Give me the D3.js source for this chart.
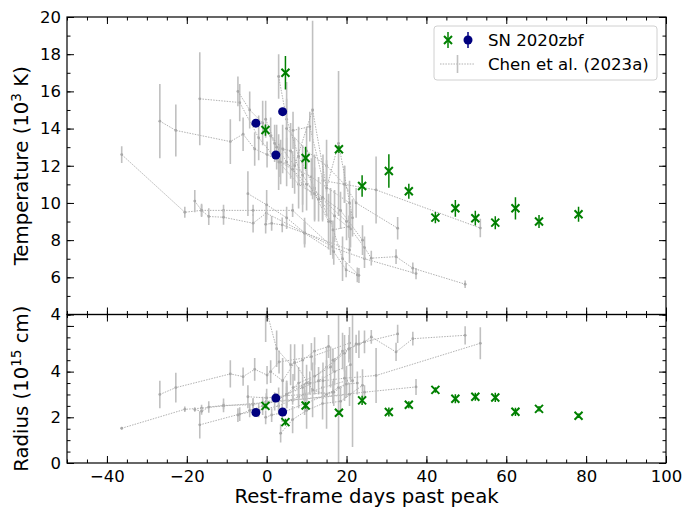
<!DOCTYPE html>
<html>
<head>
<meta charset="utf-8">
<script src="https://d3js.org/d3.v7.min.js"></script>
<style>
  body { margin: 0; background: #fff; }
  svg text { font-family: "DejaVu Sans", sans-serif; fill: #000; }
</style>
</head>
<body>
<svg id="chart" width="682" height="510"></svg>
<script>
// SN 2020zbf, photometric fits
const zbfPhase   = [-0.3, 4.7, 9.75, 18.1, 23.9, 30.6, 35.6, 42.25, 47.25, 52.25, 57.25, 62.3, 68.2, 78.1];
const zbfTemp    = [13.92, 17.0, 12.42, 12.89, 10.91, 11.72, 10.63, 9.21, 9.71, 9.18, 8.94, 9.71, 9.0, 9.39];
const zbfTempErr = [0.3, 0.9, 0.6, 0.2, 0.58, 0.9, 0.4, 0.3, 0.45, 0.4, 0.35, 0.6, 0.35, 0.4];
const zbfRad     = [2.5, 1.79, 2.52, 2.2, 2.74, 2.23, 2.55, 3.2, 2.81, 2.9, 2.87, 2.24, 2.37, 2.07];
const zbfRadErr  = [0.1, 0.15, 0.15, 0.1, 0.2, 0.2, 0.15, 0.12, 0.2, 0.18, 0.2, 0.18, 0.12, 0.1];

// SN 2020zbf, spectral fits
const specPhase   = [-2.7, 2.3, 4.0];
const specTemp    = [14.29, 12.58, 14.91];
const specTempErr = [0.15, 0.15, 0.15];
const specRad     = [2.21, 2.84, 2.23];
const specRadErr  = [0.1, 0.1, 0.1];

// Chen et al. (2023a) comparison sample, one row per object
const chenPhase = [
  [-36.3, -20.5, -16.3, -10.8, -3.4, 6.5, 16.6, 24.5, 37.4],
  [-26.75, -22.75, -9.1, -5.9, -3, 0.1, 3.1, 11.2, 20.75],
  [-18, -16.3, -14.5, -10.8, -3.4, -0.1, 9.5, 20.75],
  [-16.75, -6.75, -2, 3, 8, 14, 20],
  [-7.2, -4.25, -1, 2, 5, 9, 13, 17, 21],
  [-4.7, 0, 5, 9.5, 16.6],
  [-0.25, 1.25, 3.9, 9.5, 16.8, 19.9, 22.7],
  [6.6, 10.8, 14.1, 19.5, 27.4, 53.5],
  [3, 5, 8, 12, 16, 19, 23.1],
  [16.6, 20.6, 24.5, 26.2, 32.4, 36.6, 49.7],
  [5, 10, 15, 19.5, 22.4, 32.8],
  [1, 4, 7, 11.5, 15, 18, 21.5],
  [-0.25, 2.5, 6, 9, 12, 15.5],
  [3.5, 6.5, 10, 14, 18.5, 24]
];
const chenTemp = [
  [12.6, 9.5, 9.6, 9.6, 9.6, 9.6, 7.6, 7.0, 6.2],
  [14.4, 13.9, 13.3, 13.7, 12.9, 12.6, 12.3, 11.4, 10.0],
  [10.1, 9.6, 9.27, 9.23, 8.91, 9.45, 8.4, 7.47],
  [15.6, 15.4, 13.5, 12.2, 11.0, 10.2, 9.0],
  [16.0, 15.0, 14.3, 13.2, 12.2, 11.0, 10.2, 9.3, 8.6],
  [10.5, 9.9, 9.2, 8.4, 7.65],
  [8.85, 8.9, 8.82, 8.37, 7.38, 6.4, 6.13],
  [13.9, 14.1, 11.2, 11.0, 10.7, 8.65],
  [16.8, 14.5, 12.5, 10.8, 9.0, 7.0, 6.1],
  [8.55, 8.73, 7.6, 7.03, 7.11, 6.49, 5.63],
  [14.0, 12.8, 12.0, 11.0, 10.0, 8.64],
  [13.6, 12.9, 12.0, 15.0, 10.8, 13.2, 9.2],
  [14.5, 13.0, 12.8, 11.5, 10.5, 9.0],
  [12.2, 11.8, 11.0, 10.3, 9.6, 8.0]
];
const chenTempErr = [
  [0.45, 0.3, 0.35, 0.3, 0.3, 0.35, 0.6, 0.5, 0.3],
  [2.0, 1.4, 1.2, 0.9, 0.9, 0.7, 0.9, 1.0, 1.2],
  [0.6, 0.3, 0.45, 0.4, 0.5, 0.5, 0.6, 0.7],
  [2.5, 1.0, 1.2, 1.5, 1.3, 1.2, 1.0],
  [0.8, 1.0, 1.2, 1.0, 1.3, 1.5, 1.2, 1.4, 1.0],
  [1.2, 0.8, 0.6, 0.8, 0.5],
  [0.5, 0.4, 0.4, 0.6, 0.7, 0.4, 0.4],
  [1.0, 0.8, 1.4, 1.0, 1.8, 0.5],
  [1.2, 2.0, 1.6, 1.8, 1.8, 1.2, 0.4],
  [0.5, 0.6, 0.6, 0.4, 0.4, 0.3, 0.2],
  [1.6, 1.3, 1.4, 1.0, 0.8, 0.6],
  [1.0, 1.3, 1.5, 4.8, 1.5, 3.9, 1.0],
  [1.0, 1.2, 1.5, 1.6, 1.4, 1.5],
  [1.2, 1.0, 1.4, 1.2, 1.0, 0.8]
];
const chenRad = [
  [1.52, 2.35, 2.4, 2.5, 2.6, 2.75, 2.95, 3.1, 3.33],
  [3.0, 3.3, 3.9, 3.78, 4.1, 3.85, 4.42, 4.65, 5.25],
  [2.34, 2.26, 2.45, 2.52, 2.55, 2.7, 2.8, 3.0],
  [1.67, 2.14, 2.3, 2.5, 2.9, 3.3, 3.6],
  [2.1, 2.3, 2.5, 2.7, 3.0, 3.3, 3.6, 4.0, 4.3],
  [2.9, 2.85, 2.95, 3.0, 3.1],
  [2.0, 2.1, 2.2, 2.6, 3.1, 3.45, 3.5],
  [3.3, 3.5, 3.6, 3.71, 3.83, 5.24],
  [2.8, 3.0, 3.5, 3.8, 4.2, 4.9, 5.2],
  [4.5, 5.0, 5.3, 5.52, 4.86, 5.44, 5.59],
  [3.0, 3.5, 4.2, 4.8, 5.21, 5.65],
  [4.0, 3.6, 4.4, 3.2, 3.0, 3.3, 3.6],
  [6.8, 5.0, 4.3, 4.5, 4.9, 5.1],
  [1.3, 1.9, 2.3, 2.6, 2.7, 3.4]
];
const chenRadErr = [
  [0.05, 0.12, 0.15, 0.15, 0.2, 0.2, 0.3, 0.3, 0.35],
  [0.6, 0.65, 0.6, 0.4, 0.5, 0.4, 0.5, 0.6, 0.7],
  [0.1, 0.15, 0.25, 0.3, 0.3, 0.35, 0.4, 0.5],
  [0.6, 0.3, 0.3, 0.4, 0.5, 0.5, 0.6],
  [0.3, 0.3, 0.4, 0.4, 0.5, 0.5, 0.6, 0.6, 0.7],
  [0.5, 0.4, 0.4, 0.5, 0.5],
  [0.3, 0.3, 0.4, 0.5, 0.6, 0.6, 0.5],
  [0.6, 0.5, 0.8, 1.0, 1.2, 0.7],
  [0.5, 0.6, 0.7, 0.8, 0.9, 0.8, 0.6],
  [0.5, 0.6, 0.5, 0.3, 0.4, 0.3, 0.4],
  [0.6, 0.8, 0.9, 0.8, 0.4, 0.4],
  [0.5, 1.0, 0.8, 1.2, 1.5, 3.3, 2.9],
  [1.5, 0.8, 0.9, 0.7, 0.6, 0.5],
  [0.4, 0.6, 0.8, 0.7, 0.6, 0.7]
];

const xTicks = [-40, -20, 0, 20, 40, 60, 80, 100];
const tempTicks = [4, 6, 8, 10, 12, 14, 16, 18, 20];
const radTicks = [0, 2, 4];

const svg = d3.select('#chart');
svg.append('rect').attr('width', 682).attr('height', 510).attr('fill', '#fff');

const pLeft = 67, pRight = 666, pTop = 17, pMid = 314.5, pBottom = 463;
const x = d3.scaleLinear().domain([-50, 100]).range([pLeft, pRight]);
const yT = d3.scaleLinear().domain([4, 20]).range([pMid, pTop]);
const yR = d3.scaleLinear().domain([0, 6.5]).range([pBottom, pMid]);

const green = '#008000', navy = '#00007f';

function drawPanel(name, y, yMajor, yLabels, yMinorStep, chenY, chenE, zbfY, zbfE, specY, specE) {
  const g = svg.append('g');
  const [y0, y1] = y.range();
  g.append('clipPath').attr('id', 'clip-' + name)
    .append('rect').attr('x', pLeft).attr('y', y1).attr('width', pRight - pLeft).attr('height', y0 - y1);
  const plot = g.append('g').attr('clip-path', `url(#clip-${name})`);

  // comparison sample
  chenPhase.forEach((ph, k) => {
    const pts = ph.map((p, i) => [p, chenY[k][i], chenE[k][i]]);
    plot.append('g').selectAll('line').data(pts).enter().append('line')
      .attr('x1', d => x(d[0])).attr('x2', d => x(d[0]))
      .attr('y1', d => y(d[1] - d[2])).attr('y2', d => y(d[1] + d[2]))
      .attr('stroke', '#c0c0c0').attr('stroke-width', 1.6);
    plot.append('path').datum(pts)
      .attr('d', d3.line().x(d => x(d[0])).y(d => y(d[1])))
      .attr('fill', 'none').attr('stroke', '#a8a8a8').attr('stroke-width', 0.9)
      .attr('stroke-dasharray', '1.5,1.2');
    plot.append('g').selectAll('circle').data(pts).enter().append('circle')
      .attr('cx', d => x(d[0])).attr('cy', d => y(d[1])).attr('r', 1.4)
      .attr('fill', '#a8a8a8');
  });

  // SN 2020zbf photometry
  const zp = zbfPhase.map((p, i) => [p, zbfY[i], zbfE[i]]);
  plot.append('g').selectAll('line').data(zp).enter().append('line')
    .attr('x1', d => x(d[0])).attr('x2', d => x(d[0]))
    .attr('y1', d => y(d[1] - d[2])).attr('y2', d => y(d[1] + d[2]))
    .attr('stroke', green).attr('stroke-width', 1.5);
  plot.append('g').selectAll('path').data(zp).enter().append('path')
    .attr('transform', d => `translate(${x(d[0])},${y(d[1])})`)
    .attr('d', 'M-4,-4L4,4M-4,4L4,-4')
    .attr('stroke', green).attr('stroke-width', 2).attr('fill', 'none');

  // SN 2020zbf spectra
  const sp = specPhase.map((p, i) => [p, specY[i], specE[i]]);
  plot.append('g').selectAll('line').data(sp).enter().append('line')
    .attr('x1', d => x(d[0])).attr('x2', d => x(d[0]))
    .attr('y1', d => y(d[1] - d[2])).attr('y2', d => y(d[1] + d[2]))
    .attr('stroke', navy).attr('stroke-width', 1.5);
  plot.append('g').selectAll('circle').data(sp).enter().append('circle')
    .attr('cx', d => x(d[0])).attr('cy', d => y(d[1])).attr('r', 4.5)
    .attr('fill', navy);

  // axes, ticks pointing inward on all sides
  const yMinor = d3.range(y.domain()[0], y.domain()[1] + 1e-6, yMinorStep);
  const xMinor = d3.range(-50, 100.01, 5);
  const fmt = d => yLabels.includes(d) ? d3.format('d')(d) : '';
  g.append('g').attr('transform', `translate(${pLeft},0)`)
    .call(d3.axisLeft(y).tickValues(yMajor).tickSize(-7).tickPadding(6).tickFormat(fmt));
  g.append('g').attr('transform', `translate(${pLeft},0)`)
    .call(d3.axisLeft(y).tickValues(yMinor).tickSize(-3.5).tickFormat(''));
  g.append('g').attr('transform', `translate(${pRight},0)`)
    .call(d3.axisRight(y).tickValues(yMajor).tickSize(-7).tickFormat(''));
  g.append('g').attr('transform', `translate(${pRight},0)`)
    .call(d3.axisRight(y).tickValues(yMinor).tickSize(-3.5).tickFormat(''));
  g.append('g').attr('transform', `translate(0,${y1})`)
    .call(d3.axisTop(x).tickValues(xTicks).tickSize(-7).tickFormat(''));
  g.append('g').attr('transform', `translate(0,${y1})`)
    .call(d3.axisTop(x).tickValues(xMinor).tickSize(-3.5).tickFormat(''));
  g.append('g').attr('transform', `translate(0,${y0})`)
    .call(d3.axisBottom(x).tickValues(xTicks).tickSize(-7).tickPadding(7)
      .tickFormat(name === 'rad' ? d3.format('d') : ''));
  g.append('g').attr('transform', `translate(0,${y0})`)
    .call(d3.axisBottom(x).tickValues(xMinor).tickSize(-3.5).tickFormat(''));
  g.append('rect').attr('x', pLeft).attr('y', y1).attr('width', pRight - pLeft).attr('height', y0 - y1)
    .attr('fill', 'none').attr('stroke', '#000').attr('stroke-width', 1.2);
  g.selectAll('.domain').remove();
  g.selectAll('.tick line').attr('stroke', '#000').attr('stroke-width', 1);
  g.selectAll('.tick text').style('font-size', '16.5px').style('font-family', '"DejaVu Sans", sans-serif');
  return g;
}

drawPanel('temp', yT, tempTicks, tempTicks, 1, chenTemp, chenTempErr, zbfTemp, zbfTempErr, specTemp, specTempErr);
drawPanel('rad', yR, [0, 2, 4, 6], radTicks, 0.5, chenRad, chenRadErr, zbfRad, zbfRadErr, specRad, specRadErr);

// axis titles
const yLab1 = svg.append('text').attr('transform', `translate(28,${(pTop + pMid) / 2}) rotate(-90)`)
  .attr('text-anchor', 'middle').style('font-size', '19.7px');
yLab1.append('tspan').text('Temperature (10');
yLab1.append('tspan').attr('dy', -7).style('font-size', '13.5px').text('3');
yLab1.append('tspan').attr('dy', 7).text(' K)');

const yLab2 = svg.append('text').attr('transform', `translate(28,${(pMid + pBottom) / 2}) rotate(-90)`)
  .attr('text-anchor', 'middle').style('font-size', '19.7px');
yLab2.append('tspan').text('Radius (10');
yLab2.append('tspan').attr('dy', -7).style('font-size', '13.5px').text('15');
yLab2.append('tspan').attr('dy', 7).text(' cm)');

svg.append('text').attr('x', (pLeft + pRight) / 2).attr('y', 503)
  .attr('text-anchor', 'middle').style('font-size', '19.7px').text('Rest-frame days past peak');

// legend
const lg = svg.append('g').attr('transform', 'translate(434,26)');
lg.append('rect').attr('width', 223).attr('height', 54).attr('rx', 3)
  .attr('fill', '#fff').attr('fill-opacity', 0.8).attr('stroke', '#d0d0d0');
lg.append('line').attr('x1', 14).attr('x2', 14).attr('y1', 6).attr('y2', 22)
  .attr('stroke', green).attr('stroke-width', 1.5);
lg.append('path').attr('d', 'M10,10L18,18M10,18L18,10')
  .attr('stroke', green).attr('stroke-width', 2);
lg.append('line').attr('x1', 34).attr('x2', 34).attr('y1', 6).attr('y2', 22)
  .attr('stroke', navy).attr('stroke-width', 1.5);
lg.append('circle').attr('cx', 34).attr('cy', 14).attr('r', 4.5).attr('fill', navy);
lg.append('text').attr('x', 54).attr('y', 20).style('font-size', '16.6px').text('SN 2020zbf');
lg.append('line').attr('x1', 6).attr('x2', 41).attr('y1', 38).attr('y2', 38)
  .attr('stroke', '#a8a8a8').attr('stroke-width', 0.9).attr('stroke-dasharray', '1.5,1.2');
lg.append('line').attr('x1', 23.5).attr('x2', 23.5).attr('y1', 29).attr('y2', 47)
  .attr('stroke', '#c0c0c0').attr('stroke-width', 1.6);
lg.append('text').attr('x', 54).attr('y', 44).style('font-size', '16.6px').text('Chen et al. (2023a)');
</script>
</body>
</html>
